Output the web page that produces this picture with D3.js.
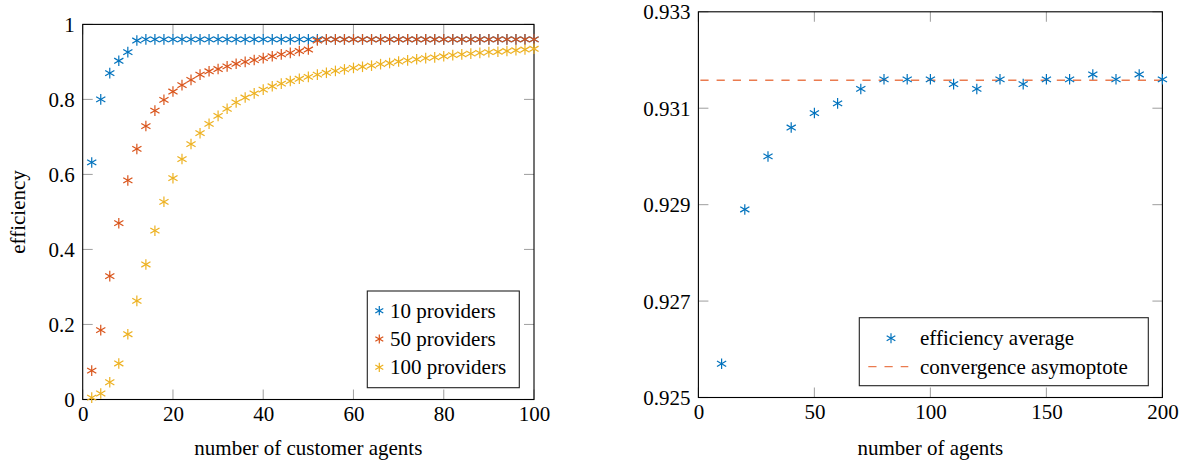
<!DOCTYPE html>
<html>
<head>
<meta charset="utf-8">
<script src="https://cdn.jsdelivr.net/npm/d3@7"></script>
<style>
  html, body { margin: 0; padding: 0; background: #fff; }
  svg { display: block; }
  text { font-family: "Liberation Serif", "Times New Roman", serif; fill: #000; }
</style>
</head>
<body>
<svg id="chart" width="1183" height="461"></svg>
<script>
// ---------- Data: left chart ----------
const customerAgents = [2,4,6,8,10,12,14,16,18,20,22,24,26,28,30,32,34,36,38,40,42,44,46,48,50,
  52,54,56,58,60,62,64,66,68,70,72,74,76,78,80,82,84,86,88,90,92,94,96,98,100];
const eff10 = [0.632,0.800,0.870,0.903,0.926,0.957,0.960,0.960,0.960,0.960,0.960,0.960,0.960,0.960,0.960,
  0.960,0.960,0.960,0.960,0.960,0.960,0.960,0.960,0.960,0.960,0.960,0.960,0.960,0.960,0.960,
  0.960,0.960,0.960,0.960,0.960,0.960,0.960,0.960,0.960,0.960,0.960,0.960,0.960,0.960,0.960,
  0.960,0.960,0.960,0.960,0.960];
const eff50 = [0.077,0.185,0.329,0.470,0.584,0.668,0.729,0.770,0.799,0.821,0.838,0.852,0.866,0.875,0.881,
  0.888,0.895,0.900,0.905,0.910,0.915,0.920,0.924,0.929,0.933,0.957,0.960,0.960,0.960,0.960,
  0.960,0.960,0.960,0.960,0.960,0.960,0.960,0.960,0.960,0.960,0.960,0.960,0.960,0.960,0.960,
  0.960,0.960,0.960,0.960,0.960];
const eff100 = [0.005,0.016,0.046,0.096,0.174,0.263,0.360,0.450,0.527,0.590,0.641,0.681,0.710,0.735,0.756,
  0.775,0.792,0.805,0.816,0.826,0.835,0.842,0.849,0.855,0.860,0.866,0.871,0.876,0.880,0.884,
  0.887,0.890,0.894,0.897,0.901,0.904,0.907,0.910,0.912,0.915,0.918,0.920,0.922,0.924,0.926,
  0.927,0.929,0.931,0.933,0.935];
const leftSeriesNames = ["10 providers", "50 providers", "100 providers"];
const leftXTicks = [0,20,40,60,80,100];
const leftYTicks = [0,0.2,0.4,0.6,0.8,1];

// ---------- Data: right chart ----------
const numAgents = [10,20,30,40,50,60,70,80,90,100,110,120,130,140,150,160,170,180,190,200];
const effAverage = [0.9257,0.9289,0.9300,0.9306,0.9309,0.9311,0.9314,0.9316,0.9316,0.9316,
  0.9315,0.9314,0.9316,0.9315,0.9316,0.9316,0.9317,0.9316,0.9317,0.9316];
const asymptote = 0.93158;
const rightSeriesNames = ["efficiency average", "convergence asymoptote"];
const rightXTicks = [0,50,100,150,200];
const rightYTicks = [0.925,0.927,0.929,0.931,0.933];

// ---------- Styles ----------
const colors = ["#0072BD", "#D95319", "#EDB120"];
const dashColor = "#ea7b4f";
const FS = 21;
const TICK = 10;
const svg = d3.select("#chart");

function asterisk(g, cx, cy, r, color) {
  const angles = [90, 30, 150];
  angles.forEach(a => {
    const rad = a * Math.PI / 180;
    const dx = r * Math.cos(rad), dy = r * Math.sin(rad);
    g.append("line")
      .attr("x1", cx - dx).attr("y1", cy - dy)
      .attr("x2", cx + dx).attr("y2", cy + dy)
      .attr("stroke", color).attr("stroke-width", 1.2);
  });
}

function frame(g, x, y, xTicks, yTicks, fmtY, fmtX) {
  const [x0, x1] = x.range();
  const [y0, y1] = y.range();
  // inner gray ticks on all four sides
  xTicks.forEach(t => {
    const px = x(t);
    g.append("line").attr("x1", px).attr("x2", px).attr("y1", y0).attr("y2", y0 - TICK)
      .attr("stroke", "#a6a6a6").attr("stroke-width", 1.1);
    g.append("line").attr("x1", px).attr("x2", px).attr("y1", y1).attr("y2", y1 + TICK)
      .attr("stroke", "#a6a6a6").attr("stroke-width", 1.1);
  });
  yTicks.forEach(t => {
    const py = y(t);
    g.append("line").attr("x1", x0).attr("x2", x0 + TICK).attr("y1", py).attr("y2", py)
      .attr("stroke", "#a6a6a6").attr("stroke-width", 1.1);
    g.append("line").attr("x1", x1).attr("x2", x1 - TICK).attr("y1", py).attr("y2", py)
      .attr("stroke", "#a6a6a6").attr("stroke-width", 1.1);
  });
  // tick labels via d3 axes
  const ax = g.append("g").attr("transform", `translate(0,${y0})`)
    .call(d3.axisBottom(x).tickValues(xTicks).tickSize(0).tickPadding(0).tickFormat(fmtX));
  ax.select(".domain").remove();
  ax.selectAll("text").attr("font-size", FS).attr("font-family", "Liberation Serif")
    .attr("y", 21.5).attr("dy", 0).attr("fill", "#000");
  const ay = g.append("g").attr("transform", `translate(${x0},0)`)
    .call(d3.axisLeft(y).tickValues(yTicks).tickSize(0).tickPadding(0).tickFormat(fmtY));
  ay.select(".domain").remove();
  ay.selectAll("text").attr("font-size", FS).attr("font-family", "Liberation Serif")
    .attr("x", -8).attr("dy", "0.33em").attr("fill", "#000");
}

function border(g, x, y) {
  const [x0, x1] = x.range();
  const [y0, y1] = y.range();
  g.append("rect").attr("x", x0).attr("y", y1).attr("width", x1 - x0).attr("height", y0 - y1)
    .attr("fill", "none").attr("stroke", "#000").attr("stroke-width", 1.1);
}

// ---------- Left chart ----------
const xL = d3.scaleLinear().domain([0, 100]).range([82.7, 534]);
const yL = d3.scaleLinear().domain([0, 1]).range([399.5, 24.4]);
const gL = svg.append("g");
frame(gL, xL, yL, leftXTicks, leftYTicks, d => d3.format("~g")(d), d => d);
border(gL, xL, yL);
[eff10, eff50, eff100].forEach((series, i) => {
  const gs = gL.append("g");
  series.forEach((v, j) => asterisk(gs, xL(customerAgents[j]), yL(v), 5.3, colors[i]));
});
gL.append("text").attr("x", (82.7 + 534) / 2).attr("y", 455).attr("text-anchor", "middle")
  .attr("font-size", FS).text("number of customer agents");
gL.append("text").attr("transform", `translate(25,${(399.5 + 24.4) / 2}) rotate(-90)`)
  .attr("text-anchor", "middle").attr("font-size", FS).text("efficiency");
// legend
const legL = gL.append("g");
legL.append("rect").attr("x", 367.3).attr("y", 291).attr("width", 152).attr("height", 96.7)
  .attr("fill", "#fff").attr("stroke", "#222").attr("stroke-width", 1.1);
leftSeriesNames.forEach((name, i) => {
  const cy = 310.7 + i * 28.3;
  asterisk(legL, 379.3, cy, 4.6, colors[i]);
  legL.append("text").attr("x", 390).attr("y", cy + 7).attr("font-size", FS).text(name);
});

// ---------- Right chart ----------
const xR = d3.scaleLinear().domain([0, 200]).range([698.4, 1162.4]);
const yR = d3.scaleLinear().domain([0.925, 0.933]).range([397.5, 11.8]);
const gR = svg.append("g");
frame(gR, xR, yR, rightXTicks, rightYTicks, d3.format(".3f"), d => d);
border(gR, xR, yR);
gR.append("line").attr("x1", xR(0)).attr("x2", xR(200))
  .attr("y1", yR(asymptote)).attr("y2", yR(asymptote))
  .attr("stroke", dashColor).attr("stroke-width", 1.3).attr("stroke-dasharray", "8.2,8")
  .attr("stroke-dashoffset", -2);
const gsR = gR.append("g");
effAverage.forEach((v, j) => asterisk(gsR, xR(numAgents[j]), yR(v), 5.3, colors[0]));
gR.append("text").attr("x", (698.4 + 1162.4) / 2).attr("y", 455).attr("text-anchor", "middle")
  .attr("font-size", FS).text("number of agents");
// legend
const legR = gR.append("g");
legR.append("rect").attr("x", 859.3).attr("y", 317.7).attr("width", 289).attr("height", 68)
  .attr("fill", "#fff").attr("stroke", "#222").attr("stroke-width", 1.1);
asterisk(legR, 891, 338.3, 5, colors[0]);
legR.append("text").attr("x", 920).attr("y", 338.3 + 7).attr("font-size", FS).text(rightSeriesNames[0]);
legR.append("line").attr("x1", 868.3).attr("x2", 908.3).attr("y1", 366.7).attr("y2", 366.7)
  .attr("stroke", dashColor).attr("stroke-width", 1.3).attr("stroke-dasharray", "8.2,8");
legR.append("text").attr("x", 920).attr("y", 366.7 + 7).attr("font-size", FS).text(rightSeriesNames[1]);
</script>
</body>
</html>
